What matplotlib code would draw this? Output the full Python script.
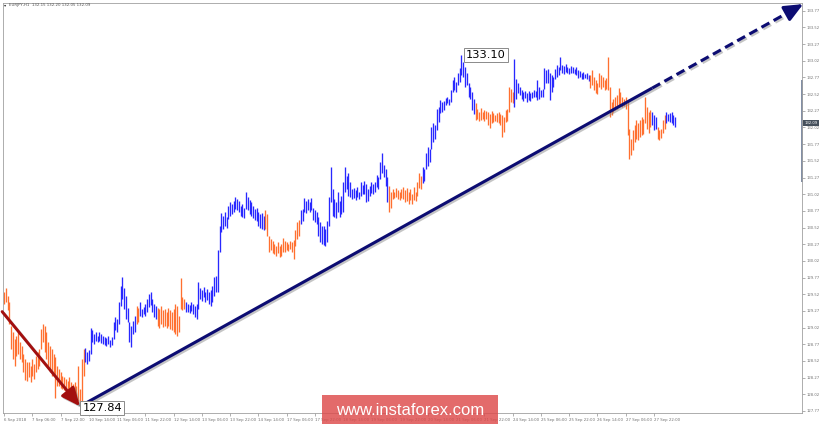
import numpy as np
import matplotlib
matplotlib.use("Agg")
import matplotlib.pyplot as plt
import matplotlib.patheffects as pe
from matplotlib.patches import Rectangle
from matplotlib.transforms import blended_transform_factory

# EURJPY H1 bars (first bar = 6 Sep 2018 14:00)
high = [
    129.55, 129.62, 129.50, 129.40, 129.05, 128.95, 128.85, 128.90, 128.95, 128.80,
    128.75, 128.62, 128.55, 128.50, 128.50, 128.45, 128.55, 128.48, 128.60, 128.66,
    128.70, 129.00, 129.07, 129.05, 128.95, 128.80, 128.75, 128.70, 128.62, 128.58,
    128.45, 128.40, 128.35, 128.30, 128.28, 128.25, 128.22, 128.28, 128.20, 128.18,
    128.20, 128.15, 128.45, 128.10, 128.55, 128.70, 128.72, 128.65, 128.68, 129.02,
    128.98, 128.92, 128.96, 128.90, 128.95, 128.92, 128.90, 128.88, 128.86, 128.90,
    128.84, 128.88, 129.10, 129.18, 129.15, 129.40, 129.65, 129.78, 129.62, 129.50,
    129.32, 129.10, 129.05, 129.12, 129.20, 129.35, 129.32, 129.40, 129.30, 129.33,
    129.38, 129.45, 129.52, 129.55, 129.45, 129.38, 129.35, 129.32, 129.30, 129.35,
    129.28, 129.30, 129.26, 129.32, 129.28, 129.25, 129.30, 129.38, 129.35, 129.20,
    129.77, 129.48, 129.45, 129.40, 129.38, 129.36, 129.40, 129.37, 129.35, 129.38,
    129.70, 129.62, 129.58, 129.63, 129.56, 129.60, 129.55, 129.58, 129.65, 129.78,
    129.80, 130.18, 130.55, 130.74, 130.70, 130.75, 130.68, 130.85, 130.90, 130.88,
    130.92, 130.98, 130.95, 130.92, 130.85, 130.88, 130.82, 131.06, 130.98, 130.94,
    130.90, 130.84, 130.80, 130.82, 130.76, 130.72, 130.74, 130.70, 130.78, 130.72,
    130.40, 130.35, 130.32, 130.28, 130.25, 130.30, 130.24, 130.27, 130.37, 130.32,
    130.30, 130.28, 130.32, 130.30, 130.34, 130.48, 130.60, 130.63, 130.78, 130.80,
    130.96, 130.92, 130.95, 130.90, 130.97, 130.82, 130.78, 130.76, 130.68, 130.60,
    130.55, 130.55, 130.50, 130.62, 130.98, 131.43, 131.10, 130.95, 130.90, 131.05,
    130.92, 131.00, 131.20, 131.43, 131.30, 131.34, 131.20, 131.10, 131.12, 131.08,
    131.13, 131.06, 131.20, 131.16, 131.22, 131.18, 131.10, 131.15, 131.21, 131.18,
    131.20, 131.31, 131.28, 131.50, 131.64, 131.46, 131.40, 131.28, 131.15, 131.05,
    131.10, 131.06, 131.12, 131.08, 131.05, 131.10, 131.13, 131.08, 131.12, 131.05,
    131.10, 131.02, 131.13, 131.06, 131.20, 131.34, 131.30, 131.43, 131.40, 131.64,
    131.73, 131.70, 132.03, 132.09, 132.05, 132.30, 132.33, 132.43, 132.40, 132.42,
    132.46, 132.48, 132.45, 132.58, 132.73, 132.78, 132.70, 132.84, 132.91, 133.10,
    133.00, 132.93, 132.84, 132.69, 132.62, 132.55, 132.45, 132.39, 132.30, 132.25,
    132.31, 132.25, 132.28, 132.26, 132.25, 132.22, 132.26, 132.24, 132.20, 132.23,
    132.25, 132.22, 132.21, 132.18, 132.28, 132.30, 132.63, 132.60, 132.55, 133.04,
    132.75, 132.69, 132.62, 132.58, 132.55, 132.57, 132.54, 132.56, 132.53, 132.55,
    132.58, 132.56, 132.73, 132.62, 132.58, 132.60, 132.91, 132.88, 132.90, 132.84,
    132.80, 132.78, 132.90, 132.96, 132.93, 133.07, 132.96, 132.94, 132.97, 132.93,
    132.91, 132.94, 132.92, 132.90, 132.92, 132.88, 132.86, 132.84, 132.85, 132.82,
    132.84, 132.80, 132.80, 132.88, 132.78, 132.73, 132.68, 132.84, 132.80, 132.78,
    132.73, 132.76, 133.08, 132.63, 132.40, 132.45, 132.48, 132.50, 132.61, 132.55,
    132.48, 132.45, 132.47, 132.43, 132.00, 131.85, 131.98, 132.05, 132.13, 132.08,
    132.13, 132.18, 132.15, 132.48, 132.33, 132.25, 132.28, 132.25, 132.20, 132.18,
    132.03, 131.98, 132.00, 132.13, 132.20, 132.25, 132.22, 132.24, 132.25, 132.20,
    132.18,
]
low = [
    129.38, 129.40, 129.28, 129.08, 128.70, 128.55, 128.45, 128.60, 128.62, 128.55,
    128.50, 128.35, 128.24, 128.22, 128.28, 128.20, 128.30, 128.25, 128.36, 128.40,
    128.45, 128.70, 128.80, 128.65, 128.55, 128.45, 128.35, 128.30, 128.30, 127.97,
    128.15, 128.15, 128.12, 128.10, 128.08, 128.05, 128.02, 128.06, 128.00, 127.98,
    127.99, 127.95, 127.92, 127.84, 127.90, 128.30, 128.50, 128.48, 128.52, 128.62,
    128.80, 128.78, 128.82, 128.80, 128.82, 128.79, 128.78, 128.76, 128.74, 128.78,
    128.73, 128.76, 128.85, 128.98, 128.95, 129.08, 129.35, 129.45, 129.30, 129.15,
    129.10, 128.80, 128.73, 128.92, 128.95, 129.08, 129.10, 129.20, 129.18, 129.22,
    129.20, 129.25, 129.33, 129.36, 129.25, 129.18, 129.15, 129.05, 129.02, 129.08,
    129.03, 129.05, 129.02, 129.04, 129.00, 128.98, 128.95, 128.92, 128.90, 128.95,
    129.30, 129.28, 129.30, 129.26, 129.25, 129.24, 129.27, 129.22, 129.18, 129.15,
    129.30, 129.45, 129.42, 129.48, 129.40, 129.43, 129.38, 129.35, 129.40, 129.50,
    129.55, 129.55, 130.15, 130.45, 130.50, 130.55, 130.52, 130.65, 130.70, 130.72,
    130.75, 130.80, 130.78, 130.76, 130.70, 130.68, 130.66, 130.80, 130.78, 130.72,
    130.70, 130.66, 130.64, 130.62, 130.55, 130.52, 130.50, 130.48, 130.50, 130.40,
    130.15, 130.18, 130.14, 130.12, 130.10, 130.14, 130.08, 130.10, 130.15, 130.16,
    130.18, 130.17, 130.20, 130.16, 130.05, 130.25, 130.35, 130.40, 130.58, 130.62,
    130.75, 130.74, 130.78, 130.76, 130.78, 130.64, 130.60, 130.58, 130.40, 130.30,
    130.28, 130.26, 130.25, 130.30, 130.55, 130.90, 130.70, 130.68, 130.66, 130.75,
    130.68, 130.72, 130.75, 131.05, 131.10, 131.00, 130.98, 130.95, 130.96, 130.94,
    130.98, 130.95, 131.00, 131.02, 131.03, 130.90, 130.92, 131.00, 131.04, 131.02,
    131.05, 131.13, 131.10, 131.25, 131.34, 131.28, 131.15, 130.90, 130.76, 130.82,
    130.95, 130.96, 130.98, 130.95, 130.94, 130.96, 130.95, 130.90, 130.92, 130.88,
    130.93, 130.88, 130.94, 130.92, 131.00, 131.12, 131.10, 131.19, 131.22, 131.40,
    131.45, 131.50, 131.70, 131.80, 131.85, 131.98, 132.10, 132.24, 132.25, 132.28,
    132.36, 132.38, 132.35, 132.40, 132.55, 132.58, 132.55, 132.65, 132.70, 132.80,
    132.78, 132.63, 132.66, 132.48, 132.45, 132.28, 132.22, 132.13, 132.15, 132.12,
    132.13, 132.14, 132.12, 132.15, 132.05, 132.01, 132.08, 132.10, 132.12, 132.10,
    132.09, 132.05, 131.88, 131.95, 132.10, 132.12, 132.25, 132.40, 132.38, 132.33,
    132.45, 132.54, 132.50, 132.44, 132.42, 132.46, 132.40, 132.43, 132.42, 132.46,
    132.48, 132.47, 132.43, 132.45, 132.47, 132.48, 132.60, 132.69, 132.69, 132.43,
    132.55, 132.63, 132.75, 132.78, 132.80, 132.88, 132.84, 132.82, 132.85, 132.83,
    132.82, 132.84, 132.83, 132.82, 132.80, 132.76, 132.78, 132.75, 132.74, 132.76,
    132.75, 132.72, 132.61, 132.65, 132.58, 132.54, 132.52, 132.63, 132.60, 132.63,
    132.58, 132.60, 132.58, 132.18, 132.20, 132.25, 132.28, 132.30, 132.33, 132.35,
    132.33, 132.34, 132.30, 131.90, 131.55, 131.60, 131.68, 131.80, 131.85, 131.83,
    131.88, 131.90, 131.92, 132.09, 132.00, 131.94, 132.02, 132.05, 131.98, 132.00,
    131.85, 131.83, 131.86, 131.94, 132.00, 132.09, 132.12, 132.10, 132.08, 132.05,
    132.03,
]

# zigzag legs: first bar of each leg, alternating down / up
leg_start = [0, 46, 75, 77, 87, 103, 148, 168, 218, 237, 267, 289, 332, 367, 370, 375]
leg_up = [False, True, False, True, False, True, False, True,
          False, True, False, True, False, True, False, True]

header = "EURJPY,H1  132.15 132.20 132.05 132.09"
last_close = 132.09

tick_labels = ["6 Sep 2018", "7 Sep 06:00", "7 Sep 22:00", "10 Sep 14:00", "11 Sep 06:00",
               "11 Sep 22:00", "12 Sep 14:00", "13 Sep 06:00", "13 Sep 22:00", "14 Sep 14:00",
               "17 Sep 06:00", "17 Sep 22:00", "18 Sep 14:00", "19 Sep 06:00", "19 Sep 22:00",
               "20 Sep 14:00", "21 Sep 06:00", "21 Sep 22:00", "24 Sep 14:00", "25 Sep 06:00",
               "25 Sep 22:00", "26 Sep 14:00", "27 Sep 06:00", "27 Sep 22:00"]
tick_step = 16
price_ticks = [127.77 + 0.25 * k for k in range(25)]

# wave markup
fall_from = (-1.1, 129.26)
trend_break = 367
trend_tip = (452.5, 133.87)

UP = "#2828ff"
DOWN = "#ff7030"
NAVY = "#0c0c72"
RED = "#a30f0f"

plt.rcParams["lines.scale_dashes"] = False

fig = plt.figure(figsize=(8.2, 4.26), dpi=100)
ax = fig.add_axes([3 / 820, 13 / 426, 799 / 820, 410 / 426])

n = len(high)
x = np.arange(n)
colors = []
bounds = leg_start + [n]
for i in range(len(leg_start)):
    colors += [UP if leg_up[i] else DOWN] * (bounds[i + 1] - bounds[i])

ax.vlines(x, low, high, colors=colors, linewidth=0.95)

ax.set_xlim(-0.6, 451.8)
ax.set_ylim(127.74, 133.886)

for s in ax.spines.values():
    s.set_color("#a0a0a0")
    s.set_linewidth(0.6)

ax.set_xticks(np.arange(len(tick_labels)) * tick_step)
ax.set_xticklabels(tick_labels, ha="left")
ax.yaxis.tick_right()
ax.set_yticks(price_ticks)
ax.set_yticklabels([f"{p:.2f}" for p in price_ticks])
ax.tick_params(axis="x", direction="out", length=2, width=0.5, color="#909090",
               labelsize=2.8, labelcolor="#707070", pad=1.5)
ax.tick_params(axis="y", direction="out", length=2, width=0.5, color="#909090",
               labelsize=2.7, labelcolor="#707070", pad=1.5)

# visible-range marker on the price scale
ax.plot([1, 1], [131.20, 132.73], transform=blended_transform_factory(ax.transAxes, ax.transData),
        color="#7f8ca4", lw=1.4, clip_on=False, solid_capstyle="butt")

# current price box
ax.text(1.003, last_close, f"{last_close:.2f}",
        transform=blended_transform_factory(ax.transAxes, ax.transData),
        fontsize=2.7, color="white", va="center", ha="left",
        bbox=dict(boxstyle="square,pad=0.3", fc="#46505c", ec="none"))

shadow = [pe.SimpleLineShadow(offset=(1.2, -1.2), shadow_color="#808080", alpha=0.45), pe.Normal()]

i_lo = int(np.argmin(low))
i_hi = int(np.argmax(high))
slope = (trend_tip[1] - low[i_lo]) / (trend_tip[0] - i_lo)
brk_y = low[i_lo] + slope * (trend_break - i_lo)
pre_tip = trend_tip[0] - 7
pre_y = low[i_lo] + slope * (pre_tip - i_lo)

# falling wave
ax.annotate("", xy=(i_lo, low[i_lo]), xytext=fall_from,
            arrowprops=dict(arrowstyle="-|>,head_length=0.8,head_width=0.35", color=RED,
                            lw=2.1, shrinkA=0, shrinkB=0, mutation_scale=14,
                            path_effects=shadow), annotation_clip=False)

# rising trend line, solid then dashed forecast
ax.plot([i_lo, trend_break], [low[i_lo], brk_y], color=NAVY, lw=2.2,
        solid_capstyle="butt", path_effects=shadow)
ax.plot([trend_break, pre_tip], [brk_y, pre_y], color=NAVY, lw=2.2,
        dashes=(6.5, 3.5), dash_capstyle="butt", path_effects=shadow, clip_on=False)
ax.annotate("", xy=trend_tip, xytext=(pre_tip, pre_y),
            arrowprops=dict(arrowstyle="-|>,head_length=0.8,head_width=0.35", color=NAVY,
                            lw=2.2, shrinkA=0, shrinkB=0, mutation_scale=14),
            annotation_clip=False)

box = dict(boxstyle="square,pad=0.18", fc="white", ec="#8a8a8a", lw=0.7)
ax.text(i_lo + 1.4, low[i_lo] - 0.025, f"{low[i_lo]:.2f}", fontsize=8.2, ha="left",
        va="center", bbox=box, zorder=5)
ax.text(i_hi + 2.6, high[i_hi], f"{high[i_hi]:.2f}", fontsize=8.2, ha="left",
        va="center", bbox=box, zorder=5)

# header
fig.text(3.5 / 820, 1 - 5 / 426, "\u25be", fontsize=3.2, color="#303030", va="center")
fig.text(9 / 820, 1 - 5 / 426, header, fontsize=2.8, color="#505050", va="center")

# watermark
fig.add_artist(Rectangle((322 / 820, 2 / 426), 176 / 820, 29 / 426,
                         transform=fig.transFigure, fc="#dd4b4b", ec="none", alpha=0.82))
fig.text(410 / 820, 15.5 / 426, "www.instaforex.com", fontsize=12,
         family="Liberation Sans", color="white", ha="center", va="center")

fig.savefig("out.png", dpi=100)
